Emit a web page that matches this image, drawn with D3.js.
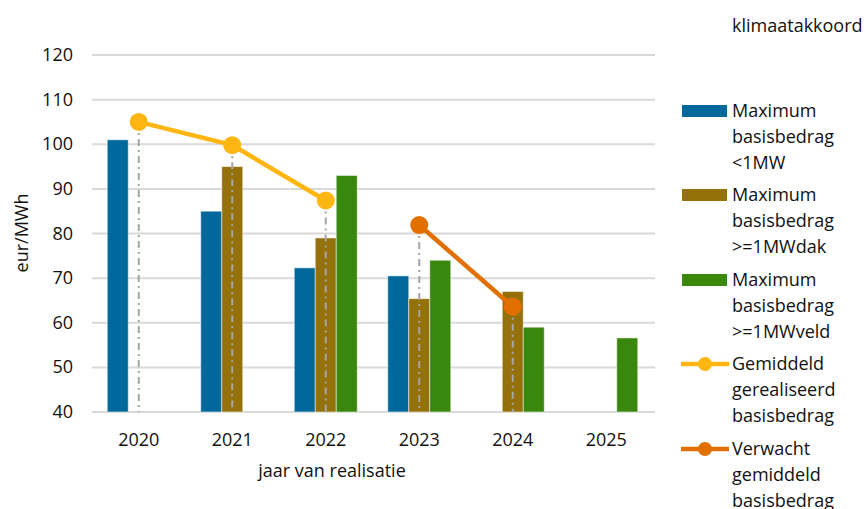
<!DOCTYPE html>
<html>
<head>
<meta charset="utf-8">
<script src="https://cdn.jsdelivr.net/npm/d3@7"></script>
<style>
  body { margin: 0; background: #fff; }
  text { font-family: "Open Sans", "Noto Sans", sans-serif; fill: #111; }
</style>
</head>
<body>
<svg id="chart"></svg>
<script>
var years = ["2020", "2021", "2022", "2023", "2024", "2025"];
var maxKlein = [101, 85, 72.3, 70.5, null, null];
var maxDak = [null, 95, 79, 65.4, 67, null];
var maxVeld = [null, null, 93, 74, 59, 56.6];
var gerealiseerd = [105, 99.8, 87.4, null, null, null];
var verwacht = [null, null, null, 81.9, 63.6, null];
var yTicks = [40, 50, 60, 70, 80, 90, 100, 110, 120];

var width = 865;
var height = 509;
var fs = 18;

var barSeries = [
  { name: ["Maximum", "basisbedrag", "<1MW"], values: maxKlein, color: "#01689B", offset: -1 },
  { name: ["Maximum", "basisbedrag", ">=1MWdak"], values: maxDak, color: "#94710A", offset: 0 },
  { name: ["Maximum", "basisbedrag", ">=1MWveld"], values: maxVeld, color: "#39870C", offset: 1 }
];
var lineSeries = [
  { name: ["Gemiddeld", "gerealiseerd", "basisbedrag"], values: gerealiseerd, color: "#FFB612" },
  { name: ["Verwacht", "gemiddeld", "basisbedrag"], values: verwacht, color: "#E17000" }
];

var svg = d3.select("#chart").attr("width", width).attr("height", height);

var x = d3.scaleBand().domain(years).range([92, 653]);
var y = d3.scaleLinear().domain([40, 120]).range([412, 55]);
var barW = 21;

// gridlines
svg.append("g").selectAll("line")
  .data(yTicks)
  .enter().append("line")
  .attr("x1", 92).attr("x2", 655)
  .attr("y1", function(d) { return y(d); })
  .attr("y2", function(d) { return y(d); })
  .attr("stroke", "#d9d9d9")
  .attr("stroke-width", 2);

// y labels
svg.append("g").selectAll("text")
  .data(yTicks)
  .enter().append("text")
  .attr("x", 73)
  .attr("y", function(d) { return y(d) + 6; })
  .attr("text-anchor", "end")
  .attr("font-size", fs)
  .text(function(d) { return d; });

// x labels
svg.append("g").selectAll("text")
  .data(years)
  .enter().append("text")
  .attr("x", function(d) { return x(d) + x.bandwidth() / 2; })
  .attr("y", 446)
  .attr("text-anchor", "middle")
  .attr("font-size", fs)
  .text(function(d) { return d; });

svg.append("text")
  .attr("x", 332).attr("y", 477)
  .attr("text-anchor", "middle")
  .attr("font-size", fs)
  .text("jaar van realisatie");

svg.append("text")
  .attr("transform", "translate(28,233) rotate(-90)")
  .attr("text-anchor", "middle")
  .attr("font-size", fs)
  .text("eur/MWh");

// bars
barSeries.forEach(function(s) {
  svg.append("g").selectAll("rect")
    .data(years.map(function(yr, i) { return { year: yr, v: s.values[i] }; })
      .filter(function(d) { return d.v != null; }))
    .enter().append("rect")
    .attr("x", function(d) { return x(d.year) + x.bandwidth() / 2 + s.offset * barW - barW / 2; })
    .attr("y", function(d) { return y(d.v); })
    .attr("width", barW)
    .attr("height", function(d) { return y(40) - y(d.v); })
    .attr("fill", s.color)
    .attr("stroke", "#ffffff")
    .attr("stroke-opacity", 0.5)
    .attr("stroke-width", 1);
});

// drop lines
lineSeries.forEach(function(s) {
  var pts = years.map(function(yr, i) { return { year: yr, v: s.values[i] }; })
    .filter(function(d) { return d.v != null; });
  svg.append("g").selectAll("line")
    .data(pts)
    .enter().append("line")
    .attr("x1", function(d) { return x(d.year) + x.bandwidth() / 2; })
    .attr("x2", function(d) { return x(d.year) + x.bandwidth() / 2; })
    .attr("y1", function(d) { return y(d.v); })
    .attr("y2", y(40))
    .attr("stroke", "#a5a5a5")
    .attr("stroke-width", 2)
    .attr("stroke-dasharray", "7,4,2,4");
});

// lines + markers
lineSeries.forEach(function(s) {
  var pts = years.map(function(yr, i) { return { year: yr, v: s.values[i] }; })
    .filter(function(d) { return d.v != null; });
  var line = d3.line()
    .x(function(d) { return x(d.year) + x.bandwidth() / 2; })
    .y(function(d) { return y(d.v); });
  svg.append("path")
    .datum(pts)
    .attr("d", line)
    .attr("fill", "none")
    .attr("stroke", s.color)
    .attr("stroke-width", 4.5);
  svg.append("g").selectAll("circle")
    .data(pts)
    .enter().append("circle")
    .attr("cx", function(d) { return x(d.year) + x.bandwidth() / 2; })
    .attr("cy", function(d) { return y(d.v); })
    .attr("r", 9)
    .attr("fill", s.color);
});

// legend
svg.append("text")
  .attr("x", 732).attr("y", 32)
  .attr("font-size", fs)
  .text("klimaatakkoord");

var legendY = [111, 195, 280, 364, 449];
var allSeries = barSeries.concat(lineSeries);
allSeries.forEach(function(s, i) {
  var ly = legendY[i];
  var g = svg.append("g");
  if (i < 3) {
    g.append("rect").attr("x", 682).attr("y", ly - 6).attr("width", 45).attr("height", 12).attr("fill", s.color);
  } else {
    g.append("line").attr("x1", 681).attr("x2", 729).attr("y1", ly).attr("y2", ly)
      .attr("stroke", s.color).attr("stroke-width", 4.5);
    g.append("circle").attr("cx", 705).attr("cy", ly).attr("r", 7).attr("fill", s.color);
  }
  s.name.forEach(function(t, j) {
    g.append("text")
      .attr("x", 732)
      .attr("y", ly + 6 + j * 26)
      .attr("font-size", fs)
      .text(t);
  });
});
</script>
</body>
</html>
